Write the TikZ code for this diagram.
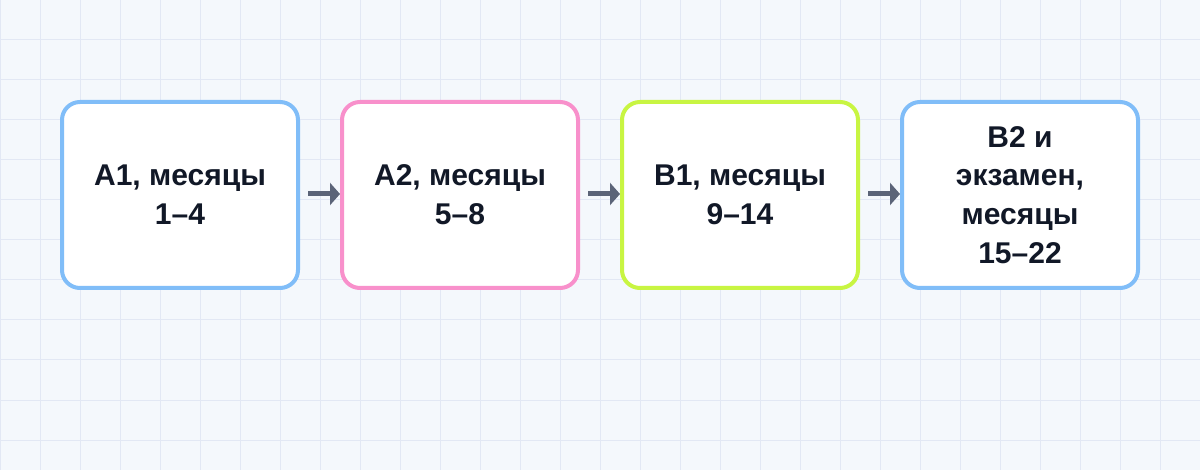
\documentclass[tikz,border=0pt]{standalone}
\usepackage{fontspec}
\setmainfont{Liberation Sans}
\usetikzlibrary{arrows.meta}
\definecolor{bgc}{HTML}{F4F8FC}
\definecolor{gridc}{HTML}{E2E8F4}
\definecolor{cblue}{HTML}{80BDF8}
\definecolor{cpink}{HTML}{F890CB}
\definecolor{clime}{HTML}{C8F542}
\definecolor{carrow}{HTML}{5B6478}
\definecolor{ctext}{HTML}{111827}
\tikzset{
  stagebox/.style={draw=#1, fill=white, line width=4pt, rounded corners=18pt,
    minimum width=236pt, minimum height=186pt, inner sep=0pt, align=center,
    text=ctext, font=\fontsize{30}{38.7}\selectfont\bfseries},
  flowarrow/.style={draw=carrow, line width=5pt,
    -{Triangle[length=10pt,width=22pt]}}
}
\begin{document}
\begin{tikzpicture}[x=1pt,y=-1pt]
\useasboundingbox (0,0) rectangle (1200,470);
\fill[bgc] (0,0) rectangle (1200,470);
\foreach \gx in {0,40,...,1200} \draw[gridc, line width=1pt] (\gx,0) -- (\gx,470);
\foreach \gy in {0,40,...,440} \draw[gridc, line width=1pt] (0,\gy) -- (1200,\gy);
\node[stagebox=cblue] (b1) at (180,195) {А1, месяцы\\1–4};
\node[stagebox=cpink] (b2) at (460,195) {А2, месяцы\\5–8};
\node[stagebox=clime] (b3) at (740,195) {В1, месяцы\\9–14};
\node[stagebox=cblue] (b4) at (1020,195) {В2 и\\экзамен,\\месяцы\\15–22};
\draw[flowarrow] ([xshift=8pt,yshift=1pt]b1.east) -- ([yshift=1pt]b2.west);
\draw[flowarrow] ([xshift=8pt,yshift=1pt]b2.east) -- ([yshift=1pt]b3.west);
\draw[flowarrow] ([xshift=8pt,yshift=1pt]b3.east) -- ([yshift=1pt]b4.west);
\end{tikzpicture}
\end{document}
